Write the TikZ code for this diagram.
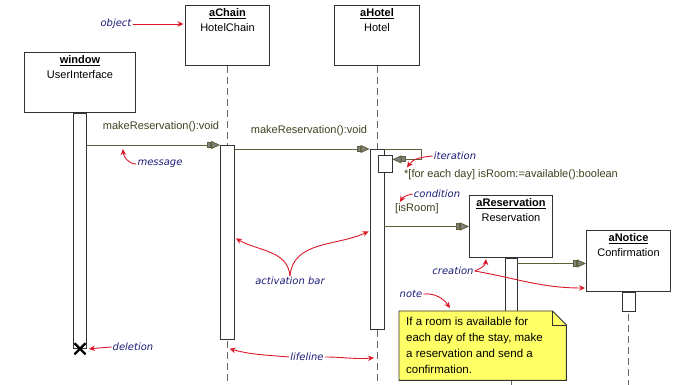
\documentclass[tikz,border=0pt]{standalone}
\usepackage{fontspec}
\setmainfont{Liberation Sans}
\newfontfamily\annfont{DejaVu Sans}
\usepackage{tikz}
\usetikzlibrary{positioning,arrows.meta,shapes.misc,calc}
\definecolor{msgcol}{RGB}{96,96,56}
\definecolor{msgtxt}{RGB}{64,64,32}
\definecolor{anncol}{RGB}{28,28,120}
\definecolor{redcol}{RGB}{220,24,40}
\definecolor{notecol}{RGB}{255,255,102}
\definecolor{edgecol}{RGB}{51,51,51}

\begin{document}
\begin{tikzpicture}[x=1pt, y=1pt,
  obj/.style={draw=edgecol, line width=1pt, fill=white, minimum width=84, minimum height=60, anchor=north west, inner sep=0pt},
  objlbl/.style={anchor=north, align=center, inner sep=0pt, font=\fontsize{11}{14.5}\selectfont, yshift=-3.5pt},
  actbar/.style={draw=edgecol, line width=0.8pt, fill=white, minimum width=14, anchor=north, inner sep=0pt},
  life/.style={draw=gray!80!black, line width=1pt, dash pattern=on 7pt off 4pt},
  msg/.style={draw=msgcol, line width=0.9pt, -{Rectangle[length=4pt,width=6pt,fill=gray]Triangle[length=9pt,width=8pt,fill=gray]}},
  msglbl/.style={text=msgtxt, font=\fontsize{11}{13}\selectfont, inner sep=1pt},
  notebox/.style={minimum width=167, minimum height=69, anchor=north west, inner sep=0pt},
  notetxt/.style={anchor=west, align=left, inner sep=0pt, font=\fontsize{11.5}{16}\selectfont},
  ann/.style={text=anncol, font=\annfont\itshape\fontsize{10}{12}\selectfont, inner sep=1pt},
  rarr/.style={draw=redcol, line width=0.9pt, -{Stealth[length=6pt,width=5.5pt]}}]
  \useasboundingbox (0,0) rectangle (681,385);
  \coordinate (floor) at (0,0);

  \node[obj, minimum width=111] (window) at (24,333) {};
  \node[obj] (chain) at (185,380) {};
  \node[obj, minimum width=85] (hotel) at (334,380) {};
  \node[obj, minimum width=83, minimum height=62] (resv) at (469,190) {};
  \node[obj, minimum height=61] (notice) at (586,155) {};
  \node[objlbl] (windowlbl) at (window.north) {\underline{\textbf{window}}\\UserInterface};
  \node[objlbl] (chainlbl) at (chain.north) {\underline{\textbf{aChain}}\\HotelChain};
  \node[objlbl] (hotellbl) at (hotel.north) {\underline{\textbf{aHotel}}\\Hotel};
  \node[objlbl] (resvlbl) at (resv.north) {\underline{\textbf{aReservation}}\\Reservation};
  \node[objlbl] (noticelbl) at (notice.north) {\underline{\textbf{aNotice}}\\Confirmation};

  \draw[life] (chain.south) -- (chain.south |- floor);
  \draw[life] (hotel.south) -- (hotel.south |- floor);
  \draw[life] (resv.south) -- (resv.south |- floor);
  \draw[life] (notice.south) -- (notice.south |- floor);

  \node[actbar, minimum width=13, minimum height=235] (winbar) at (window.south) {};
  \node[actbar, minimum height=194] (chainbar) at ($(chain.south)+(0,-79)$) {};
  \node[actbar, minimum height=180] (hotelbar) at ($(hotel.south)+(0,-83)$) {};
  \node[actbar, minimum height=17] (iterbox) at ($(hotelbar.north)+(8,-6)$) {};
  \node[actbar, minimum width=12, minimum height=108] (resvbar) at (resv.south) {};
  \node[actbar, minimum width=13, minimum height=19] (noticebar) at (notice.south) {};
  \node[cross out, draw=black, line width=2.2pt, minimum size=9pt, inner sep=0pt] (del) at (winbar.south) {};

  \draw[msg] (winbar.east |- chainbar.north) -- (chainbar.north west);
  \node[msglbl] (m1lbl) at (161,258) {makeReservation():void};
  \draw[msg] (chainbar.east |- hotelbar.north) -- (hotelbar.north west);
  \node[msglbl] (m2lbl) at (309,254) {makeReservation():void};
  \draw[msg] (hotelbar.north east) -- ++(37,0) |- ($(iterbox.east)+(0,4.5)$);
  \node[msglbl, anchor=west] (iterlbl) at (403,210) {*[for each day] isRoom:=available():boolean};
  \node[msglbl, anchor=west] (condlbl) at (394,176) {[isRoom]};
  \draw[msg] (hotelbar.east |- resv.west) -- (resv.west);
  \coordinate (ntin) at ($(notice.west)+(0,-2.5)$);
  \draw[msg] (resvbar.east |- ntin) -- (ntin);

  \node[notebox] (note) at (399,74) {};
  \filldraw[fill=notecol, draw=edgecol, line width=0.9pt] (note.south west) -- (note.north west) -- ([xshift=-14pt]note.north east) -- ([yshift=-14pt]note.north east) -- (note.south east) -- cycle;
  \draw[edgecol, line width=0.7pt] ([xshift=-14pt]note.north east) |- ([yshift=-14pt]note.north east);
  \node[notetxt] (notetext) at ($(note.west)+(7,0)$) {If a room is available for\\each day of the stay, make\\a reservation and send a\\confirmation.};

  \node[ann] (objann) at (116,361) {object};
  \draw[rarr, shorten >=1.5pt] (objann) -- (chain.west |- objann);
  \node[ann] (msgann) at (160,221) {message};
  \draw[rarr] (msgann.west) to[out=180,in=-85] ($(winbar.east |- chainbar.north)+(36,-4)$);
  \node[ann] (actann) at (290,104) {activation bar};
  \draw[rarr] (actann.north) to[out=95,in=-30] ($(chainbar.east)+(1,4)$);
  \draw[rarr] (actann.north) to[out=85,in=-155] ($(hotelbar.west)+(-1,8)$);
  \node[ann] (iterann) at (455,229) {iteration};
  \draw[rarr] (iterann.west) to[out=185,in=55] ($(iterlbl.west)+(4,7.5)$);
  \node[ann] (condann) at (437,191) {condition};
  \draw[rarr] (condann.west) to[out=190,in=60] ($(condlbl.west)+(6,7)$);
  \node[ann] (creann) at (453,114) {creation};
  \draw[rarr] (creann.east) to[out=20,in=-95] ($(resv.south)+(-25,-1)$);
  \draw[rarr] (creann.east) to[out=-10,in=180] ($(notice.south west)+(-1,4)$);
  \node[ann] (noteann) at (411,91) {note};
  \draw[rarr] (noteann.east) to[out=5,in=125] ($(note.north west)+(51,3)$);
  \node[ann] (delann) at (133,38) {deletion};
  \draw[rarr] (delann.west) -- ($(winbar.south east)+(2,0)$);
  \node[ann] (lifeann) at (307,28) {lifeline};
  \draw[rarr] (lifeann.west) to[out=175,in=-15] ($(chainbar.south)+(2,-9)$);
  \draw[rarr] (lifeann.east) to[out=0,in=185] ($(hotelbar.south)+(-3,-28)$);
\end{tikzpicture}
\end{document}
